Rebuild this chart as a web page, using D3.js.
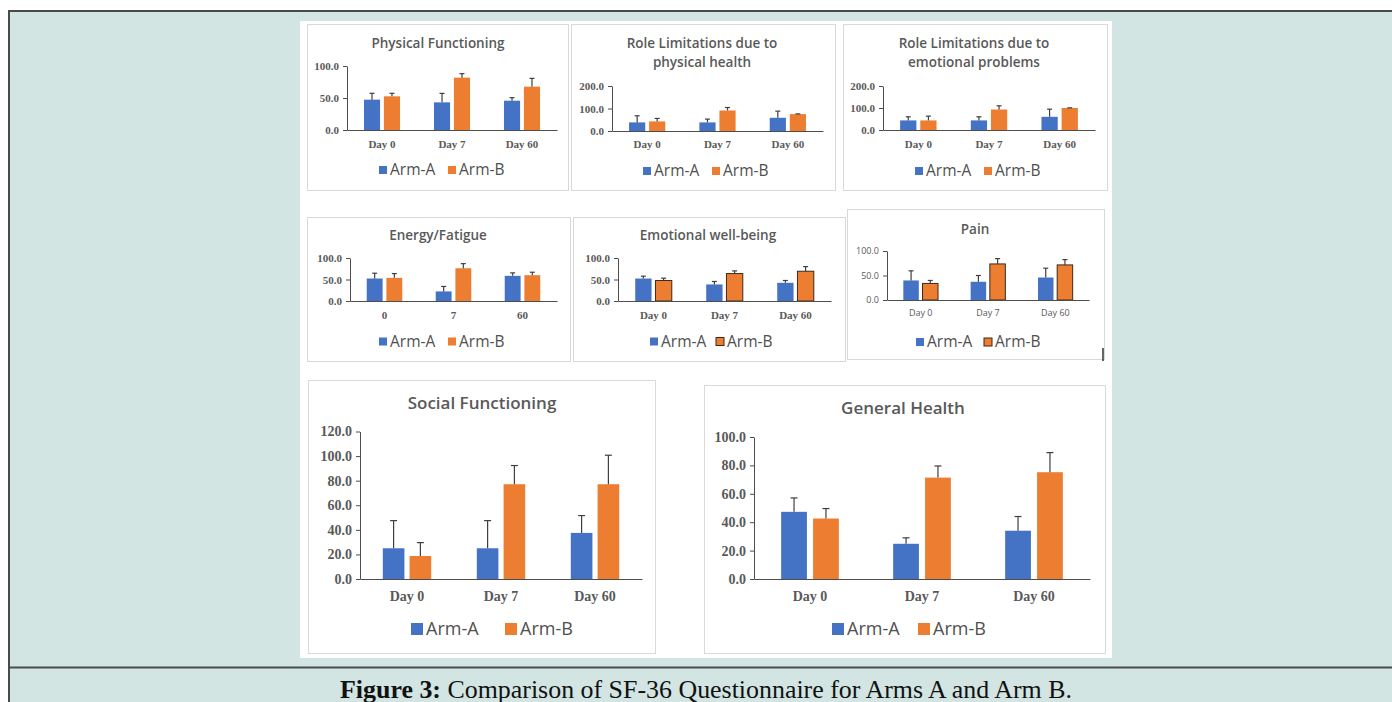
<!DOCTYPE html>
<html>
<head>
<meta charset="utf-8">
<script src="https://cdn.jsdelivr.net/npm/d3@7/dist/d3.min.js"></script>
<style>
  html, body { margin: 0; padding: 0; background: #ffffff; }
  svg { display: block; }
</style>
</head>
<body>
<svg id="fig" width="1392" height="702"></svg>
<script>
// ---------------- DATA ----------------
const seriesNames = ["Arm-A", "Arm-B"];
const dayCategories = ["Day 0", "Day 7", "Day 60"];
const energyCategories = ["0", "7", "60"];

const ticks100by50 = [0, 50, 100];
const ticks200by100 = [0, 100, 200];
const ticks120by20 = [0, 20, 40, 60, 80, 100, 120];
const ticks100by20 = [0, 20, 40, 60, 80, 100];

// Physical Functioning
const physA = [47.4, 43.2, 45.8];
const physAErr = [10.0, 14.0, 4.7];
const physB = [52.6, 81.8, 67.7];
const physBErr = [4.7, 6.2, 13.0];

// Role Limitations due to physical health
const rolePhysA = [38.2, 38.2, 58.8];
const rolePhysAErr = [29.4, 14.7, 29.4];
const rolePhysB = [42.6, 91.2, 75.0];
const rolePhysBErr = [13.3, 13.2, 1.0];

// Role Limitations due to emotional problems
const roleEmoA = [43.6, 43.6, 60.0];
const roleEmoAErr = [16.4, 16.4, 34.7];
const roleEmoB = [43.6, 93.2, 100.0];
const roleEmoBErr = [19.4, 16.8, 0.7];

// Energy/Fatigue
const energyA = [52.3, 22.3, 58.5];
const energyAErr = [12.3, 11.5, 6.9];
const energyB = [53.8, 76.2, 60.0];
const energyBErr = [10.0, 10.7, 6.9];

// Emotional well-being
const emoWellA = [52.3, 38.5, 42.3];
const emoWellAErr = [5.4, 6.9, 5.4];
const emoWellB = [47.7, 63.8, 69.2];
const emoWellBErr = [5.3, 6.2, 10.8];

// Pain
const painA = [39.9, 37.2, 45.9];
const painAErr = [19.6, 12.8, 19.0];
const painB = [33.8, 73.6, 71.6];
const painBErr = [6.1, 10.9, 10.8];

// Social Functioning
const socialA = [25.0, 25.0, 37.5];
const socialAErr = [22.5, 22.5, 14.1];
const socialB = [18.7, 77.1, 77.1];
const socialBErr = [10.9, 15.2, 23.6];

// General Health
const generalA = [47.3, 24.8, 34.0];
const generalAErr = [9.8, 4.2, 10.0];
const generalB = [42.6, 71.4, 75.2];
const generalBErr = [7.0, 8.2, 13.8];

const captionBold = "Figure 3:";
const captionText = " Comparison of SF-36 Questionnaire for Arms A and Arm B.";

// ---------------- STYLE / LAYOUT ----------------
const colorA = "#4472C4";
const colorB = "#ED7D31";
const textGray = "#595959";
const legendGray = "#505050";
const axisGray = "#4d4d4d";
const errColor = "#3f3f3f";
const serif = "'Liberation Serif', 'Times New Roman', serif";
const sans = "'Open Sans', 'Noto Sans', sans-serif";

const panels = [
  { title: ["Physical Functioning"], cats: dayCategories, A: physA, AE: physAErr, B: physB, BE: physBErr,
    box: [307, 24, 261, 166], left: 347, right: 557, top: 66, bottom: 130, max: 100, ticks: ticks100by50,
    titleX: 438, titleY: 43, titleSize: 13.5, catY: 144, legY: 170, sqA: 379, sqB: 448,
    tickFont: serif, tickSize: 11, tickWeight: "bold", catSize: 11, legSize: 15.5, sq: 8, capW: 5 },
  { title: ["Role Limitations due to", "physical health"], cats: dayCategories, A: rolePhysA, AE: rolePhysAErr, B: rolePhysB, BE: rolePhysBErr,
    box: [571, 24, 264, 166], left: 612, right: 823, top: 86, bottom: 131, max: 200, ticks: ticks200by100,
    titleX: 702, titleY: 43, titleLH: 19.5, titleSize: 13.5, catY: 144, legY: 171, sqA: 643, sqB: 712,
    tickFont: serif, tickSize: 11, tickWeight: "bold", catSize: 11, legSize: 15.5, sq: 8, capW: 5 },
  { title: ["Role Limitations due to", "emotional problems"], cats: dayCategories, A: roleEmoA, AE: roleEmoAErr, B: roleEmoB, BE: roleEmoBErr,
    box: [843, 24, 264, 166], left: 883, right: 1095, top: 86, bottom: 130, max: 200, ticks: ticks200by100,
    titleX: 974, titleY: 43, titleLH: 19.5, titleSize: 13.5, catY: 144, legY: 171, sqA: 915, sqB: 984,
    tickFont: serif, tickSize: 11, tickWeight: "bold", catSize: 11, legSize: 15.5, sq: 8, capW: 5 },
  { title: ["Energy/Fatigue"], cats: energyCategories, A: energyA, AE: energyAErr, B: energyB, BE: energyBErr,
    box: [307, 217, 263, 144], left: 350, right: 557, top: 258, bottom: 301, max: 100, ticks: ticks100by50,
    titleX: 438, titleY: 235, titleSize: 13.5, catY: 315, legY: 341.5, sqA: 379, sqB: 448,
    tickFont: serif, tickSize: 11, tickWeight: "bold", catSize: 11, legSize: 15.5, sq: 8, capW: 5 },
  { title: ["Emotional well-being"], cats: dayCategories, A: emoWellA, AE: emoWellAErr, B: emoWellB, BE: emoWellBErr,
    box: [573, 217, 272, 144], left: 618, right: 831, top: 258, bottom: 301, max: 100, ticks: ticks100by50,
    titleX: 708, titleY: 235.5, titleSize: 13.5, catY: 315, legY: 341.5, sqA: 650, sqB: 716,
    tickFont: serif, tickSize: 11, tickWeight: "bold", catSize: 11, legSize: 15.5, sq: 8, capW: 5, outlineB: true },
  { title: ["Pain"], cats: dayCategories, A: painA, AE: painAErr, B: painB, BE: painBErr,
    box: [847, 209, 257, 150], left: 887, right: 1089, top: 251, bottom: 300, max: 100, ticks: ticks100by50,
    titleX: 975, titleY: 229, titleSize: 13.5, catY: 313, legY: 342, sqA: 916, sqB: 984,
    tickFont: sans, tickSize: 9, tickWeight: "normal", catFont: sans, catWeight: "normal", catSize: 9, legSize: 15.5, sq: 8, capW: 5, outlineB: true },
  { title: ["Social Functioning"], cats: dayCategories, A: socialA, AE: socialAErr, B: socialB, BE: socialBErr,
    box: [308, 380, 347, 273], left: 360, right: 642, top: 431.5, bottom: 579, max: 120, ticks: ticks120by20,
    titleX: 482, titleY: 403, titleSize: 17, catY: 596, legY: 629, sqA: 411, sqB: 505,
    tickFont: serif, tickSize: 14, tickWeight: "bold", catSize: 14, legSize: 18, sq: 12, capW: 7 },
  { title: ["General Health"], cats: dayCategories, A: generalA, AE: generalAErr, B: generalB, BE: generalBErr,
    box: [704, 385, 401, 268], left: 754, right: 1090, top: 437, bottom: 579, max: 100, ticks: ticks100by20,
    titleX: 903, titleY: 408, titleSize: 17, catY: 596, legY: 629, sqA: 832, sqB: 918,
    tickFont: serif, tickSize: 14, tickWeight: "bold", catSize: 14, legSize: 18, sq: 12, capW: 7 }
];

// ---------------- DRAW ----------------
const svg = d3.select("#fig");

// page background and frame
svg.append("rect").attr("x", 0).attr("y", 0).attr("width", 1392).attr("height", 702).attr("fill", "#ffffff");
svg.append("rect").attr("x", 9).attr("y", 11).attr("width", 1400).attr("height", 720)
  .attr("fill", "#D2E5E3").attr("stroke", "#4a4a4a").attr("stroke-width", 2);
svg.append("line").attr("x1", 9).attr("x2", 1392).attr("y1", 667.5).attr("y2", 667.5)
  .attr("stroke", "#474d4d").attr("stroke-width", 2);

// white image area
svg.append("rect").attr("x", 300).attr("y", 21).attr("width", 812).attr("height", 637).attr("fill", "#ffffff");

// caption
const cap = svg.append("text").attr("x", 706).attr("y", 697.5).attr("text-anchor", "middle")
  .attr("font-family", serif).attr("font-size", 24.5).attr("fill", "#111")
  .attr("textLength", 732).attr("lengthAdjust", "spacingAndGlyphs");
cap.append("tspan").attr("font-weight", "bold").text(captionBold);
cap.append("tspan").text(captionText);

const fmt = d3.format(".1f");

panels.forEach(p => {
  const g = svg.append("g");
  // panel box
  g.append("rect").attr("x", p.box[0] + 0.5).attr("y", p.box[1] + 0.5)
    .attr("width", p.box[2]).attr("height", p.box[3])
    .attr("fill", "#ffffff").attr("stroke", "#d9d9d9").attr("stroke-width", 1);

  // title
  p.title.forEach((t, i) => {
    g.append("text").attr("x", p.titleX).attr("y", p.titleY + i * (p.titleLH || 0))
      .attr("dy", "0.35em").attr("text-anchor", "middle")
      .attr("font-family", sans).attr("font-weight", 600).attr("font-size", p.titleSize)
      .attr("fill", textGray).text(t);
  });

  const x0 = d3.scaleBand().domain(p.cats).range([p.left, p.right]).padding(0);
  const y = d3.scaleLinear().domain([0, p.max]).range([p.bottom, p.top]);
  const bw = x0.bandwidth() * 0.23;
  const gap = x0.bandwidth() * 0.055;
  const x1 = d3.scaleOrdinal().domain(seriesNames)
    .range([x0.bandwidth() / 2 - gap / 2 - bw, x0.bandwidth() / 2 + gap / 2]);

  const rows = [];
  p.cats.forEach((c, i) => {
    rows.push({ cat: c, s: "Arm-A", v: p.A[i], e: p.AE[i] });
    rows.push({ cat: c, s: "Arm-B", v: p.B[i], e: p.BE[i] });
  });

  // bars
  g.selectAll("rect.bar").data(rows).join("rect").attr("class", "bar")
    .attr("x", d => x0(d.cat) + x1(d.s))
    .attr("y", d => y(d.v))
    .attr("width", bw)
    .attr("height", d => y(0) - y(d.v))
    .attr("fill", d => d.s === "Arm-A" ? colorA : colorB)
    .attr("stroke", d => (d.s === "Arm-B" && p.outlineB) ? "#3b2a1a" : "none")
    .attr("stroke-width", 1);

  // error bars
  const eb = g.selectAll("g.err").data(rows).join("g").attr("class", "err");
  eb.append("line")
    .attr("x1", d => x0(d.cat) + x1(d.s) + bw / 2)
    .attr("x2", d => x0(d.cat) + x1(d.s) + bw / 2)
    .attr("y1", d => y(d.v))
    .attr("y2", d => y(d.v + d.e))
    .attr("stroke", errColor).attr("stroke-width", 1.2);
  eb.append("line")
    .attr("x1", d => x0(d.cat) + x1(d.s) + bw / 2 - p.capW / 2)
    .attr("x2", d => x0(d.cat) + x1(d.s) + bw / 2 + p.capW / 2)
    .attr("y1", d => y(d.v + d.e))
    .attr("y2", d => y(d.v + d.e))
    .attr("stroke", errColor).attr("stroke-width", 1.2);

  // y axis
  const yAxis = g.append("g").attr("transform", `translate(${p.left},0)`)
    .call(d3.axisLeft(y).tickValues(p.ticks).tickFormat(fmt).tickSize(4).tickSizeOuter(0).tickPadding(4));
  yAxis.select(".domain").attr("stroke", axisGray);
  yAxis.selectAll(".tick line").attr("stroke", axisGray);
  yAxis.selectAll(".tick text").attr("font-family", p.tickFont).attr("font-weight", p.tickWeight)
    .attr("font-size", p.tickSize).attr("fill", textGray);

  // x axis
  const catSize = p.catSize;
  const xAxis = g.append("g").attr("transform", `translate(0,${p.bottom})`)
    .call(d3.axisBottom(x0).tickSize(0).tickSizeOuter(0).tickPadding(p.catY - p.bottom - 0.36 * catSize));
  xAxis.select(".domain").attr("stroke", axisGray);
  xAxis.selectAll(".tick text").attr("font-family", p.catFont || serif)
    .attr("font-weight", p.catWeight || "bold").attr("font-size", catSize).attr("fill", textGray);

  // legend
  const legItems = [{ s: "Arm-A", x: p.sqA, c: colorA, o: false }, { s: "Arm-B", x: p.sqB, c: colorB, o: !!p.outlineB }];
  legItems.forEach(li => {
    g.append("rect").attr("x", li.x).attr("y", p.legY - p.sq / 2)
      .attr("width", p.sq).attr("height", p.sq).attr("fill", li.c)
      .attr("stroke", li.o ? "#3b2a1a" : "none").attr("stroke-width", 1);
    g.append("text").attr("x", li.x + p.sq + 3).attr("y", p.legY).attr("dy", "0.35em")
      .attr("font-family", sans).attr("font-weight", 500).attr("font-size", p.legSize)
      .attr("fill", legendGray).text(li.s);
  });
});

// small stray mark near the Pain panel
svg.append("line").attr("x1", 1103).attr("x2", 1103).attr("y1", 348).attr("y2", 361)
  .attr("stroke", "#333").attr("stroke-width", 1.5);
</script>
</body>
</html>
